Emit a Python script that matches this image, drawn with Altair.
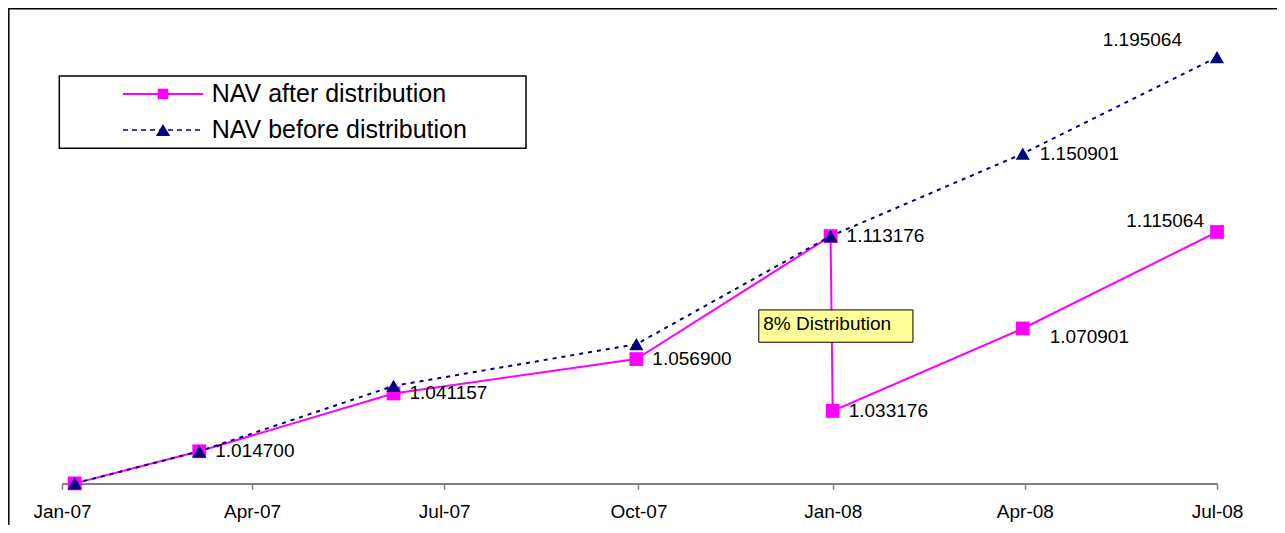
import altair as alt
import pandas as pd

# ---- data ----
after_dates = ["2007-01-07", "2007-03-07", "2007-06-07", "2007-09-30",
               "2007-12-31", "2008-01-01", "2008-03-31", "2008-07-01"]
after_values = [1.0, 1.0147, 1.041157, 1.0569, 1.113176, 1.033176, 1.070901, 1.115064]

before_dates = ["2007-01-07", "2007-03-07", "2007-06-07", "2007-09-30",
                "2007-12-31", "2008-03-31", "2008-07-01"]
before_values = [1.0, 1.0147, 1.0446, 1.0637, 1.113176, 1.150901, 1.195064]

tick_dates = [(2007, 1), (2007, 4), (2007, 7), (2007, 10), (2008, 1), (2008, 4), (2008, 7)]
legend_labels = ["NAV after distribution", "NAV before distribution"]

annotation_text = ["8% Distribution"]
annotation_start = ["2007-11-27"]
annotation_end = ["2008-02-08"]
annotation_low = [1.0646]
annotation_high = [1.0794]
annotation_mid = [1.0730]

# ---- styling ----
FONT = "Liberation Sans"
MAGENTA = "#FF00FF"
NAVY = "#000080"

after_df = pd.DataFrame({"date": after_dates, "value": after_values})
before_df = pd.DataFrame({"date": before_dates, "value": before_values})
ann_df = pd.DataFrame({"text": annotation_text, "date": annotation_start, "end": annotation_end,
                       "low": annotation_low, "high": annotation_high, "mid": annotation_mid})

x_scale = alt.Scale(type="utc",
                    domain=[alt.DateTime(year=2007, month=1, date=1, utc=True),
                            alt.DateTime(year=2008, month=7, date=1, utc=True)])
y_scale = alt.Scale(domain=[1.0, 1.2], nice=False, zero=False)

x_axis = alt.Axis(values=[alt.DateTime(year=y, month=m, date=1, utc=True) for y, m in tick_dates],
                  labelExpr="utcFormat(datum.value, '%b-%y')", title=None, grid=False,
                  domainColor="#808080", domainWidth=2, tickColor="#808080", tickWidth=1.5,
                  tickSize=6, labelPadding=13, labelFontSize=19, labelFont=FONT,
                  labelColor="black", labelFlush=False)

X = alt.X("date:T", scale=x_scale, axis=x_axis)
Y = alt.Y("value:Q", scale=y_scale, axis=None)

one = pd.DataFrame({"k": [0]})

frame = alt.Chart(one).mark_rect(fillOpacity=0, stroke="black", strokeWidth=1.5).encode(
    x=alt.value(-53.2), x2=alt.value(1240), y=alt.value(-37.6), y2=alt.value(520))

after_line = alt.Chart(after_df).mark_line(color=MAGENTA, strokeWidth=2).encode(x=X, y=Y)
after_pts = alt.Chart(after_df).mark_point(shape="square", filled=True, size=190,
                                           color=MAGENTA, opacity=1).encode(x=X, y=Y)
before_line = alt.Chart(before_df).mark_line(color=NAVY, strokeWidth=2,
                                             strokeDash=[4, 5]).encode(x=X, y=Y)
before_pts = alt.Chart(before_df).mark_point(shape="triangle-up", filled=True, size=200,
                                             color=NAVY, opacity=1).encode(x=X, y=Y)

ann_rect = alt.Chart(ann_df).mark_rect(fill="#FFFF99", stroke="black", strokeWidth=1).encode(
    x=X, x2="end:T",
    y=alt.Y("low:Q", scale=y_scale, axis=None), y2="high:Q")
ann_text = alt.Chart(ann_df).mark_text(align="left", baseline="middle", dx=4.5,
                                       fontSize=19, font=FONT, color="black").encode(
    x=X, y=alt.Y("mid:Q", scale=y_scale, axis=None), text="text:N")

def labels(df, idx, **kw):
    return alt.Chart(df.iloc[idx]).mark_text(fontSize=19, font=FONT, color="black",
                                             baseline="middle", **kw).encode(
        x=X, y=Y, text=alt.Text("value:Q", format=".6f"))

lab_right_after = labels(after_df, [1, 2, 3, 4, 5], align="left", dx=16)
lab_right_before = labels(before_df, [5], align="left", dx=17)
lab_apr08_after = labels(after_df, [6], align="left", dx=27, dy=9)
lab_jul08_before = labels(before_df, [6], align="right", dx=-35, dy=-17)
lab_jul08_after = labels(after_df, [7], align="right", dx=-13, dy=-11)

# ---- legend box ----
leg_box = alt.Chart(one).mark_rect(fill="white", stroke="black", strokeWidth=1.5).encode(
    x=alt.value(-2.7), x2=alt.value(464), y=alt.value(29.6), y2=alt.value(101.9))
row_y = [47.5, 83.6]
leg_line1 = alt.Chart(one).mark_rule(color=MAGENTA, strokeWidth=2).encode(
    x=alt.value(61), x2=alt.value(141), y=alt.value(row_y[0]))
leg_pt1 = alt.Chart(one).mark_point(shape="square", filled=True, size=110, color=MAGENTA,
                                    opacity=1).encode(x=alt.value(101), y=alt.value(row_y[0]))
leg_line2 = alt.Chart(one).mark_rule(color=NAVY, strokeWidth=1.5, strokeDash=[5, 4]).encode(
    x=alt.value(61), x2=alt.value(141), y=alt.value(row_y[1]))
leg_pt2 = alt.Chart(one).mark_point(shape="triangle-up", filled=True, size=200, color=NAVY,
                                    opacity=1).encode(x=alt.value(101), y=alt.value(row_y[1]))
leg_txt1 = alt.Chart(pd.DataFrame({"label": [legend_labels[0]]})).mark_text(
    align="left", baseline="middle", fontSize=25, font=FONT, color="black").encode(
    x=alt.value(149.7), y=alt.value(row_y[0]), text="label:N")
leg_txt2 = alt.Chart(pd.DataFrame({"label": [legend_labels[1]]})).mark_text(
    align="left", baseline="middle", fontSize=25, font=FONT, color="black").encode(
    x=alt.value(149.7), y=alt.value(row_y[1]), text="label:N")

chart = alt.layer(
    frame, after_line, after_pts, before_line, before_pts, ann_rect, ann_text,
    lab_right_after, lab_right_before, lab_apr08_after, lab_jul08_before, lab_jul08_after,
    leg_box, leg_line1, leg_pt1, leg_line2, leg_pt2, leg_txt1, leg_txt2,
).properties(
    width=1155, height=437,
    autosize=alt.AutoSizeParams(type="none"),
    padding={"left": 54, "top": 38.4, "right": 60, "bottom": 41.6},
    background="white",
).configure(font=FONT).configure_view(strokeWidth=0, stroke=None)

chart.save("out.html", embed_options={"renderer": "svg", "actions": False})
